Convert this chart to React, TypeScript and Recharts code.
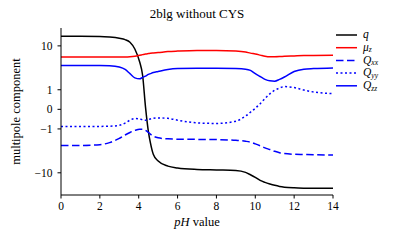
import { Legend, Line, LineChart, XAxis, YAxis } from "recharts";

const PH = [0, 1, 2, 2.5, 3, 3.3, 3.55, 3.8, 4.05, 4.2, 4.35, 4.5, 4.6, 4.75, 5, 5.5, 6, 7, 8, 9, 9.5, 9.75, 10, 10.25, 10.5, 10.75, 11, 11.25, 11.5, 12, 12.5, 13, 14];

const Q = [16.1, 16.1, 15.9, 15.4, 14.5, 13.6, 12.0, 8.6, 4.5, 2.3, 0.1, -1.2, -2.2, -4.0, -5.6, -7.2, -7.9, -8.5, -8.7, -8.9, -9.8, -11.0, -12.5, -14.5, -16.0, -17.3, -18.5, -19.5, -20.2, -20.9, -21.2, -21.3, -21.4];
const MU_Z = [5.8, 5.8, 5.8, 5.8, 5.8, 5.8, 5.85, 6.0, 6.3, 6.5, 6.7, 6.85, 6.95, 7.05, 7.2, 7.55, 7.75, 8.0, 8.0, 7.8, 7.4, 7.0, 6.7, 6.35, 6.0, 5.85, 5.85, 5.9, 6.0, 6.1, 6.2, 6.25, 6.3];
const Q_XX = [-2.55, -2.55, -2.45, -2.2, -1.75, -1.45, -1.25, -1.1, -1.02, -1.02, -1.1, -1.25, -1.38, -1.55, -1.7, -1.8, -1.83, -1.85, -1.87, -1.95, -2.05, -2.15, -2.35, -2.6, -2.9, -3.15, -3.45, -3.7, -3.85, -4.0, -4.05, -4.1, -4.15];
const Q_YY = [-0.84, -0.84, -0.84, -0.83, -0.78, -0.65, -0.5, -0.42, -0.43, -0.48, -0.5, -0.47, -0.44, -0.41, -0.39, -0.41, -0.5, -0.64, -0.67, -0.55, -0.3, -0.13, 0.05, 0.25, 0.5, 0.75, 0.97, 1.12, 1.22, 1.15, 0.98, 0.86, 0.76];
const Q_ZZ = [3.8, 3.8, 3.8, 3.75, 3.5, 3.1, 2.5, 2.0, 1.9, 2.05, 2.2, 2.4, 2.5, 2.65, 2.8, 3.1, 3.25, 3.3, 3.3, 3.25, 3.15, 2.95, 2.5, 2.15, 1.85, 1.7, 1.67, 1.85, 2.1, 2.8, 3.15, 3.25, 3.35];

const X_TICKS = [0, 2, 4, 6, 8, 10, 12, 14];
const Y_TICKS = [-10, -1, 0, 1, 10];

// asinh-like axis: linear near zero, logarithmic further out
const W = 0.9;
const squash = (v: number) => W * Math.asinh(v / W);

const SERIES = [
  { key: "q", values: Q, color: "#000000", dash: undefined, label: "q", sub: "" },
  { key: "mu", values: MU_Z, color: "#ff0000", dash: undefined, label: "μ", sub: "z" },
  { key: "qxx", values: Q_XX, color: "#0000ff", dash: "7.5 3.5", label: "Q", sub: "xx" },
  { key: "qyy", values: Q_YY, color: "#0000ff", dash: "2 2.5", label: "Q", sub: "yy" },
  { key: "qzz", values: Q_ZZ, color: "#0000ff", dash: undefined, label: "Q", sub: "zz" },
];

const data = PH.map((ph, i) => {
  const row: Record<string, number> = { ph };
  SERIES.forEach((s) => {
    row[s.key] = squash(s.values[i]);
  });
  return row;
});

const SERIF = "'Liberation Serif', 'DejaVu Serif', serif";
const fmt = (v: number) => (v < 0 ? "\u2212" + Math.abs(v) : String(v));

function YTitle(props: any) {
  const vb = props.viewBox ?? { y: 28, height: 167 };
  const cx = 16;
  const cy = vb.y + vb.height / 2;
  return (
    <text
      x={cx}
      y={cy}
      transform={`rotate(-90 ${cx} ${cy})`}
      textAnchor="middle"
      dominantBaseline="central"
      fontFamily={SERIF}
      fontSize={12.5}
      fill="#000"
    >
      multipole component
    </text>
  );
}

function XTitle(props: any) {
  const vb = props.viewBox ?? { x: 61, width: 272 };
  const cx = vb.x + vb.width / 2;
  return (
    <text x={cx} y={226} textAnchor="middle" fontFamily={SERIF} fontSize={12.5} fill="#000">
      <tspan fontStyle="italic">pH</tspan> value
    </text>
  );
}

function LegendBox() {
  return (
    <svg width={65} height={74}>
      {SERIES.map((s, i) => {
        const y = 8 + i * 12.7;
        return (
          <g key={s.key}>
            <line x1={2} x2={23} y1={y} y2={y} stroke={s.color} strokeWidth={1.5} strokeDasharray={s.dash} />
            <text x={29} y={y + 3.2} fontFamily={SERIF} fontSize={11.5} fontStyle="italic" fill="#000">
              {s.label}
              {s.sub && (
                <tspan fontSize={7.5} dy={1.5}>
                  {s.sub}
                </tspan>
              )}
            </text>
          </g>
        );
      })}
    </svg>
  );
}

export default function App() {
  return (
    <div style={{ position: "absolute", left: 0, top: 0, width: 399, height: 244, background: "#fff" }}>
      <div
        style={{
          position: "absolute",
          left: 61,
          width: 272,
          top: 7,
          textAlign: "center",
          fontFamily: SERIF,
          fontSize: 13,
          lineHeight: "14px",
          color: "#000",
        }}
      >
        2blg without CYS
      </div>
      <LineChart width={399} height={244} data={data} margin={{ top: 28, right: 66, bottom: 0, left: 0 }}>
        <XAxis
          dataKey="ph"
          type="number"
          domain={[0, 14]}
          ticks={X_TICKS}
          interval={0}
          height={49}
          stroke="#000"
          tickSize={3.5}
          tickMargin={3}
          tick={{ fill: "#000", fontSize: 11.5, fontFamily: SERIF }}
          label={<XTitle />}
        />
        <XAxis xAxisId="top" orientation="top" type="number" dataKey="ph" domain={[0, 14]} height={0} tick={false} tickLine={false} stroke="#000" />
        <YAxis
          type="number"
          domain={[-3.77, 3.58]}
          allowDataOverflow
          ticks={Y_TICKS.map(squash)}
          interval={0}
          tickFormatter={(_v: number, i: number) => fmt(Y_TICKS[i])}
          width={61}
          stroke="#000"
          tickSize={3.5}
          tickMargin={5}
          tick={{ fill: "#000", fontSize: 11.5, fontFamily: SERIF }}
          label={<YTitle />}
        />
        <YAxis yAxisId="right" orientation="right" type="number" domain={[-3.77, 3.58]} width={0} tick={false} tickLine={false} stroke="#000" />
        <Legend
          layout="horizontal"
          verticalAlign="middle"
          align="center"
          wrapperStyle={{ left: 334, top: 27, width: 65, height: 74 }}
          content={() => <LegendBox />}
        />
        {SERIES.map((s) => (
          <Line
            key={s.key}
            dataKey={s.key}
            type="monotone"
            stroke={s.color}
            strokeWidth={1.5}
            strokeDasharray={s.dash}
            dot={false}
            activeDot={false}
            isAnimationActive={false}
          />
        ))}
      </LineChart>
    </div>
  );
}
